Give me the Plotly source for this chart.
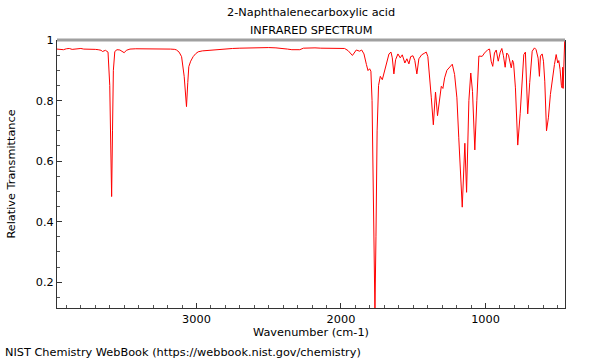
import plotly.graph_objects as go

title_lines = ["2-Naphthalenecarboxylic acid", "INFRARED SPECTRUM"]
x_title = "Wavenumber (cm-1)"
y_title = "Relative Transmittance"
footer = "NIST Chemistry WebBook (https://webbook.nist.gov/chemistry)"

x_tick_vals = [3000, 2000, 1000]
y_tick_vals = [0.2, 0.4, 0.6, 0.8, 1.0]
y_tick_text = ["0.2", "0.4", "0.6", "0.8", "1"]

wavenumber = [
    3965, 3940, 3920, 3900, 3880, 3860, 3840, 3820, 3800, 3780, 3760, 3740, 3720, 3700,
    3680, 3660, 3650, 3630, 3612, 3600, 3593, 3587, 3581, 3575, 3565, 3550, 3530, 3515,
    3500, 3485, 3460, 3420, 3380, 3340, 3300, 3260, 3220, 3180, 3150, 3138, 3120, 3103,
    3085, 3069, 3060, 3053, 3040, 3023, 3005, 2988, 2960, 2920, 2885, 2850, 2800, 2750,
    2700, 2650, 2600, 2550, 2500, 2450, 2400, 2370, 2340, 2308, 2285, 2260, 2220, 2180,
    2140, 2100, 2080, 2040, 2000, 1975, 1951, 1935, 1921, 1894, 1871, 1857, 1841, 1824,
    1813, 1802, 1793, 1785, 1775, 1765, 1758, 1750, 1740, 1728, 1714, 1698, 1686, 1668,
    1654, 1645, 1634, 1622, 1606, 1590, 1576, 1558, 1544, 1530, 1518, 1502, 1489, 1475,
    1461, 1442, 1424, 1410, 1399, 1387, 1375, 1361, 1346, 1332, 1318, 1306, 1295, 1283,
    1267, 1249, 1230, 1214, 1198, 1185, 1175, 1161, 1143, 1131, 1115, 1102, 1090, 1074,
    1060, 1046, 1023, 1007, 984, 972, 961, 950, 938, 926, 912, 898, 887, 876,
    864, 853, 841, 829, 822, 813, 806, 793, 777, 760, 746, 735, 724, 715,
    708, 694, 677, 661, 650, 636, 627, 620, 608, 599, 590, 578, 565, 551,
    535, 523, 511, 500, 493, 484, 475, 470, 466, 463, 452,
]
transmittance = [
    0.970, 0.969, 0.968, 0.971, 0.972, 0.969, 0.970, 0.972, 0.972, 0.970, 0.970, 0.971, 0.971, 0.969,
    0.968, 0.966, 0.962, 0.966, 0.960, 0.850, 0.650, 0.483, 0.700, 0.900, 0.962, 0.968, 0.967, 0.962,
    0.958, 0.966, 0.970, 0.971, 0.971, 0.972, 0.972, 0.971, 0.971, 0.970, 0.969, 0.967, 0.960, 0.945,
    0.880, 0.780, 0.860, 0.912, 0.930, 0.945, 0.955, 0.961, 0.964, 0.966, 0.967, 0.969, 0.971, 0.972,
    0.973, 0.974, 0.975, 0.975, 0.975, 0.974, 0.973, 0.970, 0.968, 0.967, 0.968, 0.973, 0.974, 0.974,
    0.973, 0.973, 0.973, 0.974, 0.974, 0.972, 0.965, 0.955, 0.949, 0.967, 0.963, 0.967, 0.954, 0.919,
    0.899, 0.905, 0.897, 0.800, 0.450, 0.100, 0.350, 0.700, 0.850, 0.880, 0.869, 0.902, 0.924, 0.954,
    0.960, 0.941, 0.888, 0.935, 0.954, 0.941, 0.951, 0.924, 0.938, 0.921, 0.945, 0.948, 0.932, 0.888,
    0.938, 0.951, 0.956, 0.960, 0.945, 0.886, 0.809, 0.720, 0.828, 0.750, 0.798, 0.847, 0.840, 0.875,
    0.900, 0.910, 0.920, 0.886, 0.809, 0.677, 0.593, 0.448, 0.659, 0.497, 0.800, 0.891, 0.830, 0.637,
    0.800, 0.947, 0.946, 0.957, 0.968, 0.970, 0.930, 0.913, 0.957, 0.967, 0.930, 0.960, 0.972, 0.948,
    0.910, 0.957, 0.950, 0.921, 0.908, 0.933, 0.925, 0.842, 0.653, 0.758, 0.890, 0.952, 0.960, 0.860,
    0.756, 0.860, 0.963, 0.974, 0.968, 0.940, 0.880, 0.947, 0.954, 0.930, 0.864, 0.700, 0.743, 0.820,
    0.886, 0.919, 0.952, 0.924, 0.932, 0.902, 0.850, 0.842, 0.910, 0.840, 1.000,
]

font_family = "DejaVu Sans"
fs = 11.3

# plot area in page pixels: x 57..565, y 40..308
L, R, T, B = 57, 565, 40, 308
PW, PH = R - L, B - T


def px_x(x):
    return (x - L) / PW


def px_y(y):
    return (B - y) / PH


fig = go.Figure()
fig.add_trace(go.Scatter(
    x=wavenumber, y=transmittance, mode="lines",
    line=dict(color="#ff0000", width=1), hoverinfo="skip", showlegend=False,
))

annotations = [
    dict(text=title_lines[0], x=px_x(311), y=px_y(13)),
    dict(text=title_lines[1], x=px_x(311), y=px_y(30)),
    dict(text=footer, x=px_x(3), y=px_y(352), xanchor="left"),
]
for a in annotations:
    a.update(xref="paper", yref="paper", showarrow=False, yanchor="middle",
             font=dict(family=font_family, size=fs, color="#000000"))
    a.setdefault("xanchor", "center")

fig.update_layout(
    width=600, height=360,
    margin=dict(l=L, r=600 - R, t=T, b=360 - B, autoexpand=False),
    paper_bgcolor="white", plot_bgcolor="white",
    font=dict(family=font_family, size=fs, color="#000000"),
    hovermode=False,
    xaxis=dict(
        range=[3965, 450], showgrid=False, zeroline=False, automargin=False,
        tickmode="array", tickvals=x_tick_vals, ticks="inside", ticklen=5,
        tickcolor="#333333", linecolor="#333333", linewidth=1, showline=True,
        minor=dict(dtick=100, ticks="inside", ticklen=3, tickcolor="#555555", showgrid=False),
        title=dict(text=x_title, standoff=3, font=dict(size=fs)),
        tickfont=dict(size=fs),
    ),
    yaxis=dict(
        range=[0.115, 1.0], showgrid=False, zeroline=False, automargin=False,
        tickmode="array", tickvals=y_tick_vals, ticktext=y_tick_text,
        ticks="inside", ticklen=5, tickcolor="#333333",
        linecolor="#333333", linewidth=1, showline=True, mirror=True,
        minor=dict(dtick=0.05, tick0=0, ticks="inside", ticklen=3, tickcolor="#555555", showgrid=False),
        title=dict(text=y_title, standoff=17, font=dict(size=fs)),
        tickfont=dict(size=fs),
    ),
    shapes=[dict(
        type="line", xref="x domain", yref="y domain", x0=0, x1=1, y0=1, y1=1,
        line=dict(color="#a0a0a0", width=3),
    )],
    annotations=annotations,
)

fig.write_html("out.html", config={"displayModeBar": False, "staticPlot": True},
               post_script="document.body.style.margin='0';")
